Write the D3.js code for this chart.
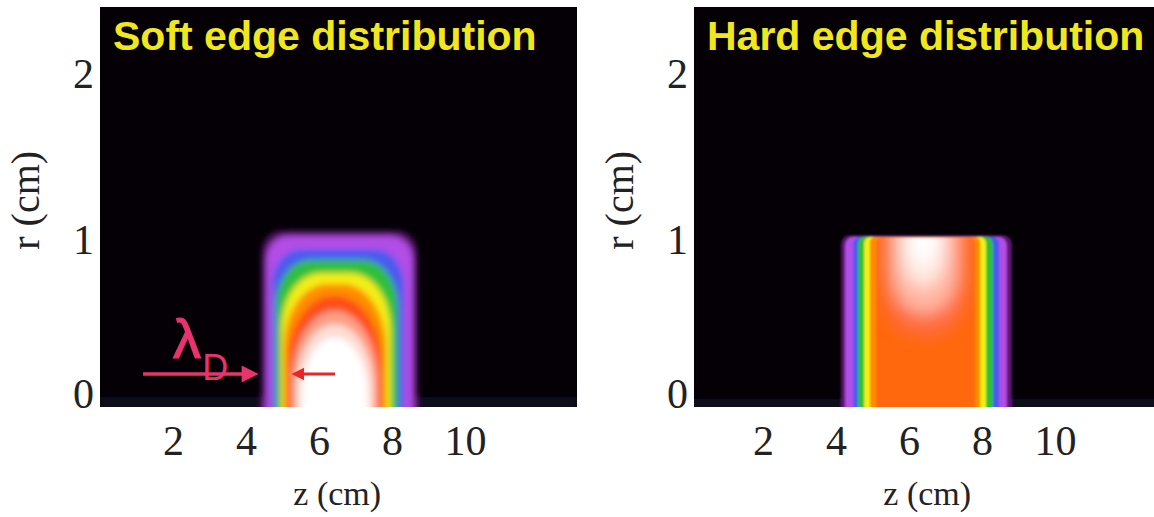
<!DOCTYPE html>
<html>
<head>
<meta charset="utf-8">
<script src="https://cdn.jsdelivr.net/npm/d3@7"></script>
<style>
  body { margin: 0; background: #fff; }
  svg { display: block; }
</style>
</head>
<body>
<svg id="chart" width="1154" height="517"></svg>
<script>
// axis ticks
var zTicks = [2, 4, 6, 8, 10];
var rTicks = [0, 1, 2];

// colour map of the normalised density
var mapStops  = [0, 0.02, 0.05, 0.15, 0.27, 0.39, 0.5, 0.6, 0.7, 0.8, 0.9, 1.0];
var mapColors = ['#040006', '#09071f', '#5a1870', '#b24ee6', '#4a5af0', '#2fbf3a',
                 '#f4ee18', '#ff8c00', '#ff4e12', '#ff9c84', '#ffdcd2', '#ffffff'];

// soft edge: iso-density contours (z in cm, r in cm)
var softLevel   = [0.02, 0.05, 0.15, 0.27, 0.39, 0.5, 0.6, 0.7, 0.8, 0.9, 1.0];
var softZLeft   = [0, 4.44, 4.55, 4.71, 4.82, 4.96, 5.04, 5.14, 5.25, 5.36, 5.52];
var softZRight  = [13.1, 8.68, 8.58, 8.33, 8.16, 7.97, 7.84, 7.72, 7.62, 7.50, 7.34];
var softRTop    = [0.06, 1.056, 1.026, 0.948, 0.882, 0.804, 0.738, 0.666, 0.58, 0.50, 0.42];
var softCornerZ = [0, 0.55, 0.6, 0.8, 0.95, 1.1, 1.2, 1.25, 1.2, 1.1, 1.0];
var softCornerR = [0, 0.13, 0.15, 0.22, 0.28, 0.34, 0.38, 0.42, 0.42, 0.4, 0.36];

// hard edge: iso-density contours
var hardLevel   = [0.02, 0.05, 0.15, 0.27, 0.39, 0.5, 0.6, 0.66];
var hardZLeft   = [0, 4.14, 4.25, 4.47, 4.60, 4.77, 4.93, 5.10];
var hardZRight  = [13.1, 8.82, 8.68, 8.47, 8.30, 8.11, 7.95, 7.81];
var hardRTop    = [0.05, 1.03, 1.02, 1.02, 1.02, 1.02, 1.02, 1.015];
var hardCornerZ = [0, 0.25, 0.22, 0.2, 0.18, 0.16, 0.15, 0.15];
var hardCornerR = [0, 0.05, 0.05, 0.04, 0.04, 0.035, 0.03, 0.03];

// hard edge: bright spot under the top surface
var blobLevel   = [0.74, 0.84, 0.94, 1.0];
var blobZLeft   = [5.25, 5.5, 5.8, 5.98];
var blobZRight  = [7.65, 7.35, 7.0, 6.8];
var blobRBottom = [0.42, 0.56, 0.72, 0.86];
var blobCornerZ = [1.1, 0.9, 0.6, 0.4];
var blobCornerR = [0.3, 0.26, 0.2, 0.12];

var svg = d3.select('#chart');
var defs = svg.append('defs');

var y = d3.scaleLinear().domain([0, 2.4]).range([407, 7]);
var colour = d3.scaleLinear().domain(mapStops).range(mapColors);

function contours(level, zL, zR, rT, cz, cr) {
    return level.map(function (v, i) {
        return { v: v, zL: zL[i], zR: zR[i], rT: rT[i], cz: cz[i], cr: cr[i] };
    });
}

function addBlur(id, sd) {
    defs.append('filter').attr('id', id)
        .attr('filterUnits', 'userSpaceOnUse')
        .attr('x', 0).attr('y', 0).attr('width', 1154).attr('height', 517)
        .append('feGaussianBlur').attr('stdDeviation', sd);
}
addBlur('blurSoft', 3.4);
addBlur('blurHard', 1.3);
addBlur('blurBlob', 8);

function marker(id, color, w, h) {
    defs.append('marker').attr('id', id)
        .attr('viewBox', '0 0 10 10').attr('refX', 5).attr('refY', 5)
        .attr('markerWidth', w).attr('markerHeight', h)
        .attr('markerUnits', 'userSpaceOnUse').attr('orient', 'auto')
        .append('path').attr('d', 'M0,0L10,5L0,10Z').attr('fill', color);
}
marker('headPink', '#e8336f', 18, 17);
marker('headRed', '#e8262a', 13, 14);

var serif = '"Liberation Serif", "Times New Roman", serif';
var sans = '"Liberation Sans", Arial, sans-serif';

function drawPanel(p) {
    var x = d3.scaleLinear().domain([0, 13.07]).range(p.xRange);
    var g = svg.append('g');

    defs.append('clipPath').attr('id', p.id + 'Clip')
        .append('rect')
        .attr('x', p.frame[0]).attr('y', y.range()[1])
        .attr('width', p.frame[1] - p.frame[0])
        .attr('height', y.range()[0] - y.range()[1]);

    g.append('rect')
        .attr('x', p.frame[0]).attr('y', y.range()[1])
        .attr('width', p.frame[1] - p.frame[0])
        .attr('height', y.range()[0] - y.range()[1])
        .attr('fill', colour(0));

    var field = g.append('g').attr('clip-path', 'url(#' + p.id + 'Clip)')
        .append('g').attr('filter', 'url(#' + p.blur + ')');

    field.selectAll('rect.level')
        .data(p.levels)
        .join('rect')
        .attr('class', 'level')
        .attr('x', function (d) { return x(d.zL); })
        .attr('y', function (d) { return y(d.rT); })
        .attr('width', function (d) { return x(d.zR) - x(d.zL); })
        .attr('height', function (d) { return y(-1) - y(d.rT); })
        .attr('rx', function (d) { return x(d.cz) - x(0); })
        .attr('ry', function (d) { return y(0) - y(d.cr); })
        .attr('fill', function (d) { return colour(d.v); });

    if (p.blobs) {
        var core = p.levels[p.levels.length - 1];
        defs.append('clipPath').attr('id', p.id + 'Core')
            .append('rect')
            .attr('x', x(core.zL)).attr('y', y(core.rT))
            .attr('width', x(core.zR) - x(core.zL))
            .attr('height', y(-1) - y(core.rT))
            .attr('rx', x(core.cz) - x(0)).attr('ry', y(0) - y(core.cr));
        field.append('g').attr('clip-path', 'url(#' + p.id + 'Core)')
            .append('g').attr('filter', 'url(#blurBlob)')
            .selectAll('rect')
            .data(p.blobs)
            .join('rect')
            .attr('x', function (d) { return x(d.zL); })
            .attr('y', y(1.4))
            .attr('width', function (d) { return x(d.zR) - x(d.zL); })
            .attr('height', function (d) { return y(d.rB) - y(1.4); })
            .attr('rx', function (d) { return x(d.cz) - x(0); })
            .attr('ry', function (d) { return y(0) - y(d.cr); })
            .attr('fill', function (d) { return colour(d.v); });
    }

    if (p.annotate) {
        g.append('line')
            .attr('x1', x(1.18)).attr('y1', y(0.198))
            .attr('x2', x(4.36) - 9).attr('y2', y(0.198))
            .attr('stroke', '#e8336f').attr('stroke-width', 3.6)
            .attr('marker-end', 'url(#headPink)');
        g.append('line')
            .attr('x1', x(6.44)).attr('y1', y(0.198))
            .attr('x2', x(5.26) + 6).attr('y2', y(0.198))
            .attr('stroke', '#e8262a').attr('stroke-width', 3.2)
            .attr('marker-end', 'url(#headRed)');
        g.append('text')
            .attr('x', x(2.0)).attr('y', y(0.294))
            .attr('font-family', sans)
            .attr('font-size', 56).attr('fill', '#e8336f')
            .attr('stroke', '#e8336f').attr('stroke-width', 1.2)
            .text('λ');
        g.append('text')
            .attr('x', x(2.8)).attr('y', y(0.16))
            .attr('font-family', sans)
            .attr('font-size', 36).attr('fill', '#e8336f')
            .text('D');
    }

    g.append('text')
        .attr('x', p.frame[0] + 13).attr('y', 50)
        .attr('font-family', sans)
        .attr('font-weight', 'bold').attr('font-size', 41)
        .attr('fill', '#f0e81c')
        .text(p.title);

    var xAxis = g.append('g')
        .attr('transform', 'translate(0,' + y(0) + ')')
        .call(d3.axisBottom(x).tickValues(zTicks).tickSize(0).tickPadding(18))
        .call(function (s) { s.select('.domain').remove(); });
    xAxis.selectAll('text')
        .attr('font-family', serif)
        .attr('font-size', 42).attr('fill', '#222');

    var yAxis = g.append('g')
        .attr('transform', 'translate(' + p.frame[0] + ',0)')
        .call(d3.axisLeft(y).tickValues(rTicks).tickFormat(d3.format('d'))
            .tickSize(0).tickPadding(6))
        .call(function (s) { s.select('.domain').remove(); });
    yAxis.selectAll('text')
        .attr('font-family', serif)
        .attr('font-size', 42).attr('fill', '#222')
        .attr('dy', function (d) { return d === 0 ? '0em' : '0.32em'; });

    g.append('text')
        .attr('x', x(6.5)).attr('y', 505)
        .attr('text-anchor', 'middle')
        .attr('font-family', serif)
        .attr('font-size', 34).attr('fill', '#222')
        .text('z (cm)');

    g.append('text')
        .attr('transform', 'translate(' + (p.frame[0] - 75) + ',' + y(1.24) + ') rotate(-90)')
        .attr('text-anchor', 'middle').attr('dominant-baseline', 'central')
        .attr('font-family', serif)
        .attr('font-size', 40).attr('fill', '#222')
        .text('r (cm)');
}

drawPanel({
    id: 'soft', title: 'Soft edge distribution',
    xRange: [100, 577], frame: [100, 577], blur: 'blurSoft', annotate: true,
    levels: contours(softLevel, softZLeft, softZRight, softRTop, softCornerZ, softCornerR)
});

drawPanel({
    id: 'hard', title: 'Hard edge distribution',
    xRange: [690, 1167], frame: [694, 1154], blur: 'blurHard',
    levels: contours(hardLevel, hardZLeft, hardZRight, hardRTop, hardCornerZ, hardCornerR),
    blobs: blobLevel.map(function (v, i) {
        return { v: v, zL: blobZLeft[i], zR: blobZRight[i], rB: blobRBottom[i],
                 cz: blobCornerZ[i], cr: blobCornerR[i] };
    })
});
</script>
</body>
</html>
